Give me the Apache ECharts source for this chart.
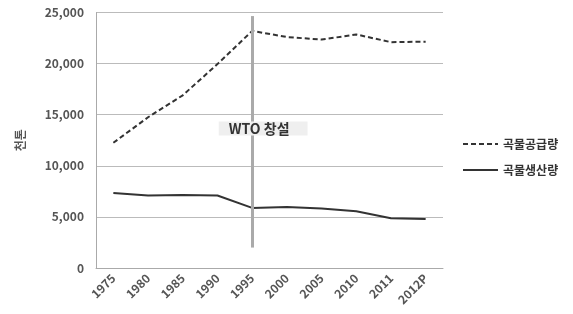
<!DOCTYPE html>
<html><head><meta charset="utf-8">
<script src="https://cdn.jsdelivr.net/npm/echarts@6/dist/echarts.min.js"></script>
<style>html,body{margin:0;padding:0;background:#fff}#c{width:573px;height:314px}</style>
</head><body><div id="c"></div>
<script>
const categories = ['1975','1980','1985','1990','1995','2000','2005','2010','2011','2012P'];
const supply = [12250, 14750, 16900, 19950, 23200, 22600, 22350, 22850, 22100, 22150];
const production = [7350, 7100, 7150, 7100, 5880, 5970, 5820, 5550, 4870, 4800];
const yTicks = [0, 5000, 10000, 15000, 20000, 25000];
const wtoYear = '1995';
const wtoLabel = 'WTO 창설';
const wtoLineRange = [24650, 2000];
const wtoLabelValue = 13640;

const font = "'Noto Sans CJK KR', 'Noto Sans', sans-serif";
const chart = echarts.init(document.getElementById('c'));
chart.setOption({
  animation: false,
  grid: {left: 96, right: 130, top: 12.5, bottom: 46},
  legend: {
    orient: 'vertical', left: 462, top: 138, padding: 0, itemWidth: 35, itemHeight: 14, itemGap: 14,
    itemStyle: {opacity: 0},
    textStyle: {fontFamily: font, fontSize: 12, color: '#333', fontWeight: 'bold'},
    data: ['곡물공급량', '곡물생산량']
  },
  xAxis: {
    type: 'category', data: categories, boundaryGap: true,
    axisLine: {lineStyle: {color: '#aaa'}},
    axisTick: {alignWithLabel: true, length: 4, lineStyle: {color: '#aaa'}},
    axisLabel: {rotate: 45, fontFamily: font, fontSize: 12, color: '#555', fontWeight: 'bold', margin: 8, interval: 0}
  },
  yAxis: {
    type: 'value', min: yTicks[0], max: yTicks[yTicks.length-1], interval: 5000,
    name: '천톤', nameLocation: 'middle', nameGap: 70, nameRotate: 90,
    nameTextStyle: {fontFamily: font, fontSize: 12, color: '#555', fontWeight: 'bold'},
    axisLine: {show: true, lineStyle: {color: '#aaa'}},
    axisTick: {show: false},
    splitLine: {lineStyle: {color: '#bbb'}},
    axisLabel: {fontFamily: font, fontSize: 12, color: '#555', fontWeight: 'bold', margin: 12,
      formatter: v => v.toLocaleString('en-US')}
  },
  series: [
    {
      name: '곡물공급량', type: 'line', data: supply, showSymbol: false, symbol: 'none',
      lineStyle: {color: '#333', width: 2, type: [5, 3]}, itemStyle: {color: '#333'},
      markLine: {
        silent: true, symbol: 'none', animation: false,
        lineStyle: {color: '#aaa', width: 3, type: 'solid'},
        label: {show: false},
        data: [[{coord: [wtoYear, wtoLineRange[0]]}, {coord: [wtoYear, wtoLineRange[1]]}]]
      },
      markPoint: {
        silent: true, symbol: 'rect', symbolSize: 0,
        label: {show: true, formatter: wtoLabel, fontFamily: font, fontSize: 14, fontWeight: 'bold',
          lineHeight: 14, color: '#333', backgroundColor: '#efefef', padding: [0, 18, 0, 10], offset: [11, 0]},
        data: [{coord: [wtoYear, wtoLabelValue]}]
      }
    },
    {
      name: '곡물생산량', type: 'line', data: production, showSymbol: false, symbol: 'none',
      lineStyle: {color: '#333', width: 2}, itemStyle: {color: '#333'}
    }
  ]
});
</script></body></html>
